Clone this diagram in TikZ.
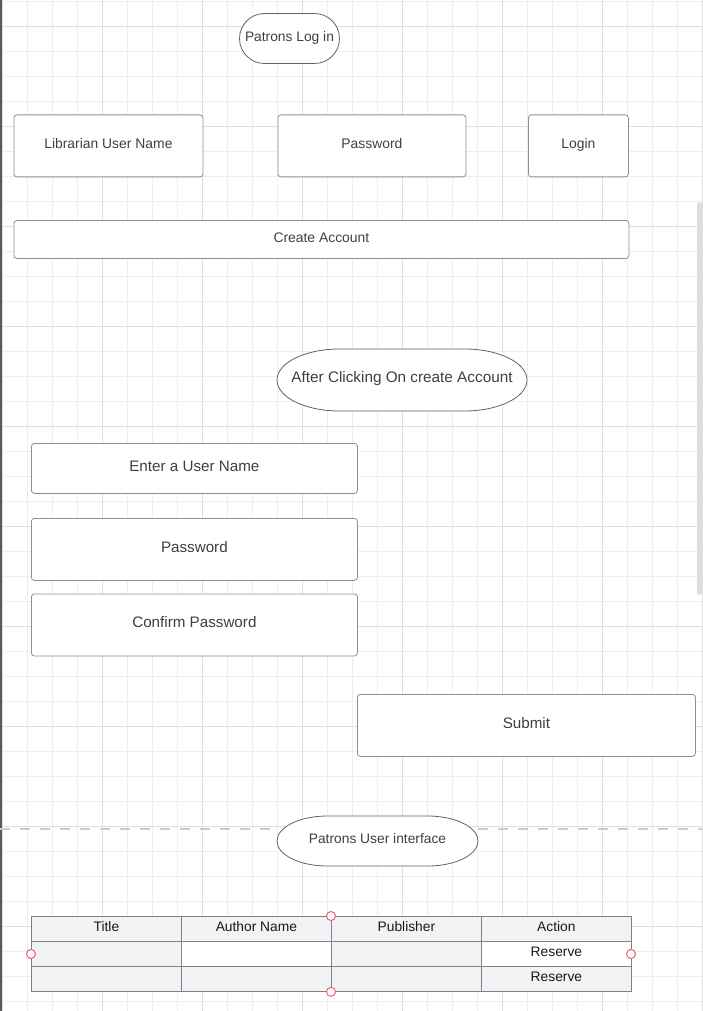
\documentclass[tikz,border=0pt]{standalone}
\usepackage{fontspec}
\setmainfont{Liberation Sans}
\definecolor{gridminor}{HTML}{EEEEEE}
\definecolor{gridmajor}{HTML}{DEDEDF}
\definecolor{boxline}{HTML}{8A8E95}
\definecolor{pillline}{HTML}{5E636A}
\definecolor{txt}{HTML}{3B4048}
\definecolor{cellfill}{HTML}{F2F3F5}
\definecolor{cellline}{HTML}{7E8187}
\definecolor{handle}{HTML}{E8616D}
\definecolor{dashc}{HTML}{CBCBCB}
\tikzset{
  lift/.style={text height=0.75em, text depth=0.17em},
  uibox/.style={draw=boxline, line width=0.8pt, rounded corners=3pt, fill=white,
    anchor=north west, inner sep=0pt, text=txt, lift, font=\fontsize{13.9}{16}\selectfont},
  pilltext/.style={inner sep=0pt, text=txt, lift},
  pillline/.style={draw=pillline, line width=0.8pt, fill=white},
  cell/.style={draw=cellline, line width=0.8pt, anchor=north west, inner sep=0pt,
    minimum width=150pt, minimum height=25pt, text=black!90, lift,
    font=\fontsize{13.8}{16}\selectfont},
  hdl/.style={circle, draw=handle, line width=1pt, fill=white, inner sep=0pt,
    minimum size=9pt},
}
% pill with elliptical ends: name, cx, cy, w, h, font, text
\newcommand\mypill[7]{%
  \pgfmathsetmacro\pxa{#2-#4/2}\pgfmathsetmacro\pxb{#2+#4/2}%
  \pgfmathsetmacro\pya{#3-#5/2}\pgfmathsetmacro\pyb{#3+#5/2}%
  \pgfmathsetmacro\prx{#4/4}\pgfmathsetmacro\pry{#5/2}%
  \pgfmathsetmacro\pk{0.5523}%
  \draw[pillline] (\pxa+\prx,\pya) -- (\pxb-\prx,\pya)
    .. controls (\pxb-\prx+\pk*\prx,\pya) and (\pxb,#3-\pk*\pry) .. (\pxb,#3)
    .. controls (\pxb,#3+\pk*\pry) and (\pxb-\prx+\pk*\prx,\pyb) .. (\pxb-\prx,\pyb)
    -- (\pxa+\prx,\pyb)
    .. controls (\pxa+\prx-\pk*\prx,\pyb) and (\pxa,#3+\pk*\pry) .. (\pxa,#3)
    .. controls (\pxa,#3-\pk*\pry) and (\pxa+\prx-\pk*\prx,\pya) .. (\pxa+\prx,\pya)
    -- cycle;
  \node[pilltext, font=#6, minimum width=#4pt, minimum height=#5pt] (#1) at (#2,#3) {#7};%
}
\begin{document}
\begin{tikzpicture}[x=1pt,y=-1pt]
\useasboundingbox (0,0) rectangle (702,1011);
\fill[white] (0,0) rectangle (702,1011);
% grid
\foreach \i in {0,...,28} {
  \draw[gridminor, line width=0.8pt] (2.5+25*\i,0) -- (2.5+25*\i,1011);
}
\foreach \i in {0,...,40} {
  \draw[gridminor, line width=0.8pt] (0,1.5+25*\i) -- (702,1.5+25*\i);
}
\foreach \i in {0,...,7} {
  \draw[gridmajor, line width=0.9pt] (2.5+100*\i,0) -- (2.5+100*\i,1011);
}
\foreach \i in {0,...,9} {
  \draw[gridmajor, line width=0.9pt] (0,26.5+100*\i) -- (702,26.5+100*\i);
}
% left edge and scrollbar
\fill[black!65] (0,0) rectangle (1.5,1011);
\fill[gridmajor, rounded corners=2.5pt] (697,202) rectangle (702,595);

% login screen
\mypill{title1}{289.5}{38.5}{100}{50}{\fontsize{13.8}{16}\selectfont}{Patrons Log in}
\node[uibox, minimum width=189pt, minimum height=62pt] (user) at (13.5,114.5) {Librarian User Name};
\node[uibox, minimum width=188pt, minimum height=62pt] (pass) at (277.5,114.5) {Password};
\node[uibox, minimum width=100pt, minimum height=62pt] (login) at (528,114.5) {Login};
\node[uibox, minimum width=615pt, minimum height=38pt] (create) at (13.5,220) {Create Account};

% create account screen
\mypill{title2}{402}{380}{250}{62}{\fontsize{15.3}{18}\selectfont}{After Clicking On create Account}
\node[uibox, minimum width=326pt, minimum height=50pt, font=\fontsize{15.2}{18}\selectfont]
  (enter) at (31,443) {Enter a User Name};
\node[uibox, minimum width=326pt, minimum height=62pt, font=\fontsize{15.2}{18}\selectfont]
  (pass2) at (31,518) {Password};
\node[uibox, minimum width=326pt, minimum height=62pt, font=\fontsize{15.2}{18}\selectfont]
  (confirm) at (31,593.5) {Confirm Password};
\node[uibox, minimum width=338pt, minimum height=62pt, font=\fontsize{15.2}{18}\selectfont]
  (submit) at (357,694) {Submit};

% patrons user interface
\coordinate (dl) at (0,828.5);
\coordinate (dr) at (702,828.5);
\mypill{title3}{377.5}{841}{201}{50}{\fontsize{13.8}{16}\selectfont}{Patrons User interface}
\draw[dashc, line width=2pt, dash pattern=on 10pt off 10pt] (dl) -- (dl -| title3.west);
\draw[dashc, line width=2pt, dash pattern=on 10pt off 10pt] (title3.east |- dr) -- (dr);

% table
\node[cell, fill=cellfill] (h1) at (31,916) {Title};
\node[cell, fill=cellfill] (h2) at (181,916) {Author Name};
\node[cell, fill=cellfill] (h3) at (331,916) {Publisher};
\node[cell, fill=cellfill] (h4) at (481,916) {Action};
\node[cell, fill=cellfill] (a1) at (31,941) {};
\node[cell, fill=white] (a2) at (181,941) {};
\node[cell, fill=cellfill] (a3) at (331,941) {};
\node[cell, fill=white] (a4) at (481,941) {Reserve};
\node[cell, fill=cellfill] (b1) at (31,966) {};
\node[cell, fill=cellfill] (b2) at (181,966) {};
\node[cell, fill=cellfill] (b3) at (331,966) {};
\node[cell, fill=cellfill] (b4) at (481,966) {Reserve};

% selection handles
\node[hdl] (ht) at (h3.north west) {};
\node[hdl] (hb) at (b3.south west) {};
\node[hdl] (hl) at (31,954) {};
\node[hdl] (hr) at (631,954) {};
\end{tikzpicture}
\end{document}
